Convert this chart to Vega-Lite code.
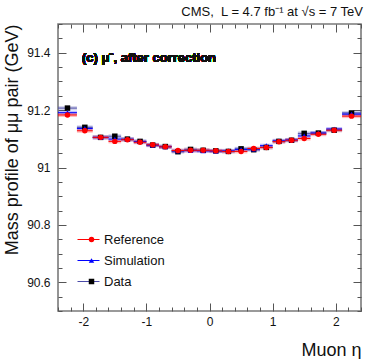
{
  "$schema": "https://vega.github.io/schema/vega-lite/v6.json",
  "width": 303,
  "height": 287,
  "autosize": "none",
  "padding": {"left": 58, "top": 24, "right": 13, "bottom": 48},
  "background": "white",
  "config": {
    "font": "Liberation Sans",
    "view": {"stroke": "#7a7a7a", "strokeWidth": 1.6},
    "axis": {"grid": false, "domain": false, "labelFont": "Liberation Sans", "titleFont": "Liberation Sans", "labelColor": "#111", "titleColor": "#111", "labelFontSize": 12, "titleFontSize": 18, "titleFontWeight": "normal", "tickColor": "#555", "tickWidth": 1}
  },
  "title": {"text": "CMS,\u00a0 L = 4.7 fb⁻¹ at √s = 7 TeV", "anchor": "end", "fontSize": 13, "fontWeight": "normal", "font": "Liberation Sans", "color": "#111", "offset": 5},
  "data": {"values": [
    {"eta": -2.25, "lo": -2.4, "hi": -2.1, "m": 91.207, "s": "Data"},
    {"eta": -1.975, "lo": -2.1, "hi": -1.85, "m": 91.140, "s": "Data"},
    {"eta": -1.725, "lo": -1.85, "hi": -1.6, "m": 91.105, "s": "Data"},
    {"eta": -1.5, "lo": -1.6, "hi": -1.4, "m": 91.109, "s": "Data"},
    {"eta": -1.3, "lo": -1.4, "hi": -1.2, "m": 91.099, "s": "Data"},
    {"eta": -1.1, "lo": -1.2, "hi": -1.0, "m": 91.091, "s": "Data"},
    {"eta": -0.9, "lo": -1.0, "hi": -0.8, "m": 91.078, "s": "Data"},
    {"eta": -0.7, "lo": -0.8, "hi": -0.6, "m": 91.073, "s": "Data"},
    {"eta": -0.5, "lo": -0.6, "hi": -0.4, "m": 91.055, "s": "Data"},
    {"eta": -0.3, "lo": -0.4, "hi": -0.2, "m": 91.063, "s": "Data"},
    {"eta": -0.1, "lo": -0.2, "hi": 0.0, "m": 91.060, "s": "Data"},
    {"eta": 0.1, "lo": 0.0, "hi": 0.2, "m": 91.058, "s": "Data"},
    {"eta": 0.3, "lo": 0.2, "hi": 0.4, "m": 91.056, "s": "Data"},
    {"eta": 0.5, "lo": 0.4, "hi": 0.6, "m": 91.065, "s": "Data"},
    {"eta": 0.7, "lo": 0.6, "hi": 0.8, "m": 91.062, "s": "Data"},
    {"eta": 0.9, "lo": 0.8, "hi": 1.0, "m": 91.070, "s": "Data"},
    {"eta": 1.1, "lo": 1.0, "hi": 1.2, "m": 91.091, "s": "Data"},
    {"eta": 1.3, "lo": 1.2, "hi": 1.4, "m": 91.095, "s": "Data"},
    {"eta": 1.5, "lo": 1.4, "hi": 1.6, "m": 91.119, "s": "Data"},
    {"eta": 1.725, "lo": 1.6, "hi": 1.85, "m": 91.120, "s": "Data"},
    {"eta": 1.975, "lo": 1.85, "hi": 2.1, "m": 91.130, "s": "Data"},
    {"eta": 2.25, "lo": 2.1, "hi": 2.4, "m": 91.190, "s": "Data"},
    {"eta": -2.25, "lo": -2.4, "hi": -2.1, "m": 91.191, "s": "Simulation"},
    {"eta": -1.975, "lo": -2.1, "hi": -1.85, "m": 91.136, "s": "Simulation"},
    {"eta": -1.725, "lo": -1.85, "hi": -1.6, "m": 91.105, "s": "Simulation"},
    {"eta": -1.5, "lo": -1.6, "hi": -1.4, "m": 91.099, "s": "Simulation"},
    {"eta": -1.3, "lo": -1.4, "hi": -1.2, "m": 91.098, "s": "Simulation"},
    {"eta": -1.1, "lo": -1.2, "hi": -1.0, "m": 91.090, "s": "Simulation"},
    {"eta": -0.9, "lo": -1.0, "hi": -0.8, "m": 91.078, "s": "Simulation"},
    {"eta": -0.7, "lo": -0.8, "hi": -0.6, "m": 91.072, "s": "Simulation"},
    {"eta": -0.5, "lo": -0.6, "hi": -0.4, "m": 91.058, "s": "Simulation"},
    {"eta": -0.3, "lo": -0.4, "hi": -0.2, "m": 91.059, "s": "Simulation"},
    {"eta": -0.1, "lo": -0.2, "hi": 0.0, "m": 91.058, "s": "Simulation"},
    {"eta": 0.1, "lo": 0.0, "hi": 0.2, "m": 91.057, "s": "Simulation"},
    {"eta": 0.3, "lo": 0.2, "hi": 0.4, "m": 91.058, "s": "Simulation"},
    {"eta": 0.5, "lo": 0.4, "hi": 0.6, "m": 91.063, "s": "Simulation"},
    {"eta": 0.7, "lo": 0.6, "hi": 0.8, "m": 91.064, "s": "Simulation"},
    {"eta": 0.9, "lo": 0.8, "hi": 1.0, "m": 91.076, "s": "Simulation"},
    {"eta": 1.1, "lo": 1.0, "hi": 1.2, "m": 91.093, "s": "Simulation"},
    {"eta": 1.3, "lo": 1.2, "hi": 1.4, "m": 91.096, "s": "Simulation"},
    {"eta": 1.5, "lo": 1.4, "hi": 1.6, "m": 91.110, "s": "Simulation"},
    {"eta": 1.725, "lo": 1.6, "hi": 1.85, "m": 91.120, "s": "Simulation"},
    {"eta": 1.975, "lo": 1.85, "hi": 2.1, "m": 91.134, "s": "Simulation"},
    {"eta": 2.25, "lo": 2.1, "hi": 2.4, "m": 91.186, "s": "Simulation"},
    {"eta": -2.25, "lo": -2.4, "hi": -2.1, "m": 91.183, "s": "Reference"},
    {"eta": -1.975, "lo": -2.1, "hi": -1.85, "m": 91.128, "s": "Reference"},
    {"eta": -1.725, "lo": -1.85, "hi": -1.6, "m": 91.105, "s": "Reference"},
    {"eta": -1.5, "lo": -1.6, "hi": -1.4, "m": 91.091, "s": "Reference"},
    {"eta": -1.3, "lo": -1.4, "hi": -1.2, "m": 91.097, "s": "Reference"},
    {"eta": -1.1, "lo": -1.2, "hi": -1.0, "m": 91.088, "s": "Reference"},
    {"eta": -0.9, "lo": -1.0, "hi": -0.8, "m": 91.079, "s": "Reference"},
    {"eta": -0.7, "lo": -0.8, "hi": -0.6, "m": 91.072, "s": "Reference"},
    {"eta": -0.5, "lo": -0.6, "hi": -0.4, "m": 91.059, "s": "Reference"},
    {"eta": -0.3, "lo": -0.4, "hi": -0.2, "m": 91.060, "s": "Reference"},
    {"eta": -0.1, "lo": -0.2, "hi": 0.0, "m": 91.060, "s": "Reference"},
    {"eta": 0.1, "lo": 0.0, "hi": 0.2, "m": 91.058, "s": "Reference"},
    {"eta": 0.3, "lo": 0.2, "hi": 0.4, "m": 91.056, "s": "Reference"},
    {"eta": 0.5, "lo": 0.4, "hi": 0.6, "m": 91.056, "s": "Reference"},
    {"eta": 0.7, "lo": 0.6, "hi": 0.8, "m": 91.066, "s": "Reference"},
    {"eta": 0.9, "lo": 0.8, "hi": 1.0, "m": 91.070, "s": "Reference"},
    {"eta": 1.1, "lo": 1.0, "hi": 1.2, "m": 91.090, "s": "Reference"},
    {"eta": 1.3, "lo": 1.2, "hi": 1.4, "m": 91.095, "s": "Reference"},
    {"eta": 1.5, "lo": 1.4, "hi": 1.6, "m": 91.101, "s": "Reference"},
    {"eta": 1.725, "lo": 1.6, "hi": 1.85, "m": 91.116, "s": "Reference"},
    {"eta": 1.975, "lo": 1.85, "hi": 2.1, "m": 91.130, "s": "Reference"},
    {"eta": 2.25, "lo": 2.1, "hi": 2.4, "m": 91.179, "s": "Reference"}
  ]},
  "resolve": {"axis": {"x": "independent", "y": "independent"}, "legend": {"stroke": "independent", "color": "independent", "shape": "independent"}},
  "layer": [
    {
      "mark": {"type": "rule", "strokeWidth": 4, "opacity": 0.25},
      "encoding": {
        "x": {"field": "lo", "type": "quantitative", "scale": {"domain": [-2.4, 2.4], "nice": false, "zero": false},
          "axis": {"orient": "bottom", "title": "Muon η", "titleAnchor": "end", "titleAlign": "right", "titlePadding": 14,
            "values": [-2.4, -2.2, -2.0, -1.8, -1.6, -1.4, -1.2, -1.0, -0.8, -0.6, -0.4, -0.2, 0, 0.2, 0.4, 0.6, 0.8, 1.0, 1.2, 1.4, 1.6, 1.8, 2.0, 2.2, 2.4],
            "labelExpr": "abs(datum.value - round(datum.value)) < 1e-6 && abs(datum.value) < 2.3 ? '' + datum.value : ''",
            "tickSize": {"condition": {"test": "abs(datum.value - round(datum.value)) < 1e-6", "value": -8}, "value": -4},
            "labelPadding": 13, "labelFlush": false}},
        "x2": {"field": "hi"},
        "y": {"field": "m", "type": "quantitative", "scale": {"domain": [90.5, 91.5], "nice": false, "zero": false},
          "axis": {"orient": "left", "title": "Mass profile of μμ pair (GeV)", "titleAnchor": "end", "titleAlign": "right", "titlePadding": 5,
            "values": [90.5, 90.55, 90.6, 90.65, 90.7, 90.75, 90.8, 90.85, 90.9, 90.95, 91.0, 91.05, 91.1, 91.15, 91.2, 91.25, 91.3, 91.35, 91.4, 91.45, 91.5],
            "labelExpr": "abs(datum.value*5 - round(datum.value*5)) < 1e-6 && datum.value > 90.55 && datum.value < 91.45 ? '' + datum.value : ''",
            "tickSize": {"condition": {"test": "abs(datum.value*5 - round(datum.value*5)) < 1e-6", "value": -8}, "value": -4},
            "labelPadding": 16, "labelFlush": false}},
        "stroke": {"field": "s", "type": "nominal", "scale": {"domain": ["Reference", "Simulation", "Data"], "range": ["#ff0000", "#0000ff", "#4a4aa8"]}, "legend": null}
      }
    },
    {
      "mark": {"type": "rule", "strokeWidth": 1},
      "encoding": {
        "x": {"field": "lo", "type": "quantitative",
          "axis": {"orient": "top", "title": null, "labels": false,
            "values": [-2.4, -2.2, -2.0, -1.8, -1.6, -1.4, -1.2, -1.0, -0.8, -0.6, -0.4, -0.2, 0, 0.2, 0.4, 0.6, 0.8, 1.0, 1.2, 1.4, 1.6, 1.8, 2.0, 2.2, 2.4],
            "tickSize": {"condition": {"test": "abs(datum.value - round(datum.value)) < 1e-6", "value": -8}, "value": -4}}},
        "x2": {"field": "hi"},
        "y": {"field": "m", "type": "quantitative",
          "axis": {"orient": "right", "title": null, "labels": false,
            "values": [90.5, 90.55, 90.6, 90.65, 90.7, 90.75, 90.8, 90.85, 90.9, 90.95, 91.0, 91.05, 91.1, 91.15, 91.2, 91.25, 91.3, 91.35, 91.4, 91.45, 91.5],
            "tickSize": {"condition": {"test": "abs(datum.value*5 - round(datum.value*5)) < 1e-6", "value": -8}, "value": -4}}},
        "stroke": {"field": "s", "type": "nominal",
          "legend": {"orient": "none", "legendX": 19, "legendY": 205, "title": null, "symbolType": "stroke", "symbolSize": 484, "symbolStrokeWidth": 1, "labelOpacity": 0, "labelFontSize": 13, "clipHeight": 21, "rowPadding": 0, "padding": 0}}
      }
    },
    {
      "mark": {"type": "point", "filled": true, "opacity": 1, "size": 30},
      "encoding": {
        "x": {"field": "eta", "type": "quantitative", "axis": null},
        "y": {"field": "m", "type": "quantitative", "axis": null},
        "color": {"field": "s", "type": "nominal", "scale": {"domain": ["Reference", "Simulation", "Data"], "range": ["#ff0000", "#0000ff", "#000000"]},
          "legend": {"orient": "none", "legendX": 27, "legendY": 205, "title": null, "symbolSize": 30, "labelFontSize": 13, "labelColor": "#111", "labelFont": "Liberation Sans", "labelOffset": 6, "clipHeight": 21, "rowPadding": 0, "padding": 0}},
        "shape": {"field": "s", "type": "nominal", "scale": {"domain": ["Reference", "Simulation", "Data"], "range": ["circle", "triangle-up", "square"]},
          "legend": {"orient": "none", "legendX": 27, "legendY": 205, "title": null, "symbolSize": 30, "labelFontSize": 13, "labelColor": "#111", "labelFont": "Liberation Sans", "labelOffset": 6, "clipHeight": 21, "rowPadding": 0, "padding": 0}}
      }
    },
    {
      "mark": {"type": "text", "text": "(c)  μ⁻, after correction", "align": "left", "baseline": "middle", "fontWeight": "bold", "fontSize": 13, "font": "Liberation Sans", "color": "#111"},
      "encoding": {
        "x": {"datum": -2.02, "type": "quantitative", "axis": null},
        "y": {"datum": 91.38, "type": "quantitative", "axis": null}
      }
    }
  ]
}
